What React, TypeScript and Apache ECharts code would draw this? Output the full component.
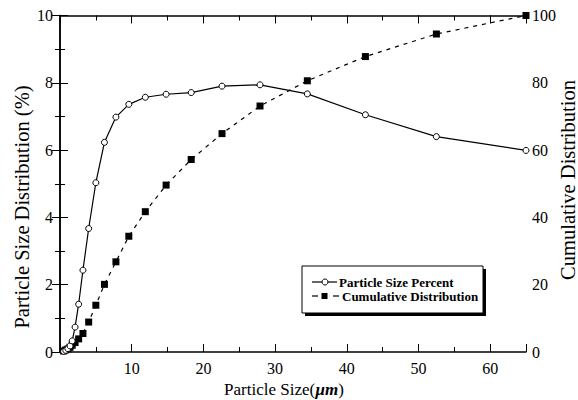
import React, { useEffect, useRef } from "react";
import * as echarts from "echarts";

const sizes = [0.5, 0.8, 1.1, 1.4, 1.7, 2.1, 2.6, 3.2, 4.0, 5.0, 6.2, 7.8, 9.6, 11.9, 14.8, 18.3, 22.6, 27.9, 34.5, 42.6, 52.5, 65];
const percent = [0.02, 0.05, 0.1, 0.18, 0.33, 0.74, 1.42, 2.43, 3.67, 5.03, 6.23, 6.98, 7.36, 7.57, 7.66, 7.71, 7.9, 7.94, 7.67, 7.05, 6.4, 5.99];
const cumulative = [0.3, 0.6, 0.9, 1.4, 2.0, 2.8, 3.9, 5.5, 8.9, 13.9, 20.1, 26.8, 34.4, 41.7, 49.6, 57.2, 64.9, 73.1, 80.6, 87.8, 94.5, 100];
const xTickLabels = ["10", "20", "30", "40", "50", "60"];
const seriesNames = ["Particle Size Percent", "Cumulative Distribution"];

const FONT = '"Liberation Serif", "Times New Roman", serif';

export default function App() {
  const ref = useRef<HTMLDivElement>(null);
  useEffect(() => {
    if (!ref.current) return;
    const chart = echarts.init(ref.current, undefined, { renderer: "svg" });
    const label = { fontFamily: FONT, fontSize: 16, color: "#000" };
    const line = { lineStyle: { color: "#000", width: 1.5 } };
    const xBase = { type: "value", min: 0, max: 65, splitLine: { show: false } };
    chart.setOption({
      animation: false,
      backgroundColor: "#fff",
      grid: { left: 60, right: 52, top: 15.5, bottom: 48, containLabel: false },
      xAxis: [
        {
          ...xBase,
          position: "bottom",
          interval: 10,
          axisLine: line,
          axisTick: { inside: true, length: 8, lineStyle: { color: "#000", width: 1 } },
          axisLabel: {
            ...label,
            margin: 8,
            formatter: (v: number) => (xTickLabels.includes(String(v)) ? String(v) : ""),
          },
        },
        {
          ...xBase,
          position: "bottom",
          interval: 5,
          axisLine: { show: false },
          axisTick: { inside: true, length: 5, lineStyle: { color: "#000", width: 1 } },
          axisLabel: { show: false },
        },
        {
          ...xBase,
          position: "top",
          interval: 10,
          axisLine: line,
          axisTick: { inside: true, length: 8, lineStyle: { color: "#000", width: 1 } },
          axisLabel: { show: false },
        },
        {
          ...xBase,
          position: "top",
          interval: 5,
          axisLine: { show: false },
          axisTick: { inside: true, length: 5, lineStyle: { color: "#000", width: 1 } },
          axisLabel: { show: false },
        },
      ],
      yAxis: [
        {
          type: "value",
          position: "left",
          min: 0,
          max: 10,
          interval: 2,
          axisLine: { show: true, ...line },
          axisTick: { show: true, inside: true, length: 8, lineStyle: { color: "#000", width: 1 } },
          minorTick: { show: true, splitNumber: 2, length: 5, lineStyle: { color: "#000", width: 1 } },
          axisLabel: { ...label, margin: 7 },
          splitLine: { show: false },
        },
        {
          type: "value",
          position: "right",
          min: 0,
          max: 100,
          interval: 20,
          axisLine: { show: true, ...line },
          axisTick: { show: true, inside: true, length: 8, lineStyle: { color: "#000", width: 1 } },
          minorTick: { show: true, splitNumber: 2, length: 5, lineStyle: { color: "#000", width: 1 } },
          axisLabel: { ...label, margin: 6 },
          splitLine: { show: false },
        },
      ],
      series: [
        {
          name: seriesNames[0],
          type: "line",
          xAxisIndex: 0,
          yAxisIndex: 0,
          data: sizes.map((s, i) => [s, percent[i]]),
          symbol: "circle",
          symbolSize: 6,
          itemStyle: { color: "#fff", borderColor: "#000", borderWidth: 1 },
          lineStyle: { color: "#000", width: 1.2 },
          z: 3,
        },
        {
          name: seriesNames[1],
          type: "line",
          xAxisIndex: 0,
          yAxisIndex: 1,
          data: sizes.map((s, i) => [s, cumulative[i]]),
          symbol: "rect",
          symbolSize: 7,
          itemStyle: { color: "#000" },
          lineStyle: { color: "#000", width: 1.2, type: [4, 5] },
          z: 2,
        },
      ],
      graphic: [
        { type: "rect", z: 10, shape: { x: 305, y: 269, width: 181, height: 47 }, style: { fill: "#000" } },
        { type: "rect", z: 11, shape: { x: 302, y: 266, width: 181, height: 47 }, style: { fill: "#fff", stroke: "#000", lineWidth: 1 } },
        { type: "line", z: 12, shape: { x1: 312, y1: 282, x2: 337, y2: 282 }, style: { stroke: "#000", lineWidth: 1.2 } },
        { type: "circle", z: 13, shape: { cx: 325, cy: 282, r: 3 }, style: { fill: "#fff", stroke: "#000", lineWidth: 1 } },
        { type: "text", z: 13, x: 339, y: 282, style: { text: seriesNames[0], font: `bold 13px ${FONT}`, fill: "#000", verticalAlign: "middle" } },
        { type: "line", z: 12, shape: { x1: 312, y1: 296, x2: 318, y2: 296 }, style: { stroke: "#000", lineWidth: 1.2 } },
        { type: "rect", z: 13, shape: { x: 321.5, y: 293, width: 6, height: 6 }, style: { fill: "#000" } },
        { type: "line", z: 12, shape: { x1: 333, y1: 296, x2: 339, y2: 296 }, style: { stroke: "#000", lineWidth: 1.2 } },
        { type: "text", z: 13, x: 342, y: 296, style: { text: seriesNames[1], font: `bold 13px ${FONT}`, fill: "#000", verticalAlign: "middle" } },
        {
          type: "text", x: 22, y: 207, rotation: Math.PI / 2,
          style: { text: "Particle Size Distribution (%)", font: `20.5px ${FONT}`, fill: "#000", align: "center", verticalAlign: "middle" },
        },
        {
          type: "text", x: 568, y: 180, rotation: Math.PI / 2,
          style: { text: "Cumulative Distribution", font: `20.5px ${FONT}`, fill: "#000", align: "center", verticalAlign: "middle" },
        },
        {
          type: "text", x: 284, y: 389,
          style: {
            text: "Particle Size({i|µm})",
            font: `17px ${FONT}`, fill: "#000", align: "center", verticalAlign: "middle",
            rich: { i: { fontFamily: FONT, fontSize: 17, fontStyle: "italic", fontWeight: "bold", fill: "#000" } },
          },
        },
      ],
    });
    return () => chart.dispose();
  }, []);
  return <div ref={ref} style={{ width: 578, height: 400, position: "absolute", left: 0, top: 0 }} />;
}
